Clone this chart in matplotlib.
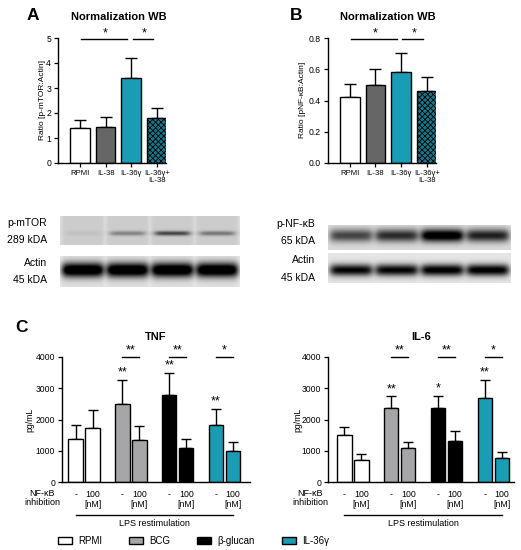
import numpy as np
import matplotlib
matplotlib.use('Agg')
import matplotlib.pyplot as plt
from matplotlib.patches import Rectangle
import matplotlib.transforms as mtrans

plt.rcParams['font.family'] = ['Liberation Sans', 'DejaVu Sans']
plt.rcParams['hatch.linewidth'] = 0.6
plt.rcParams['hatch.color'] = 'black'

W, H = 521, 550
fig = plt.figure(figsize=(W / 100, H / 100), dpi=100)


def rect(x0, y0, x1, y1):
    return [x0 / W, 1 - y1 / H, (x1 - x0) / W, (y1 - y0) / H]


# ---------------- data ----------------
wb_groups = ['RPMI', 'IL-38', 'IL-36γ', 'IL-36γ+\nIL-38']
mtor_mean = [1.40, 1.45, 3.40, 1.80]
mtor_err = [0.33, 0.40, 0.80, 0.42]
nfkb_mean = [0.425, 0.50, 0.585, 0.46]
nfkb_err = [0.08, 0.10, 0.12, 0.09]
wb_colors = ['white', '#666666', '#1a9cb5', '#15798d']
wb_hatch = [None, None, None, 'xxxxxx']
wb_sig = [(0, 2, '*'), (2, 3, '*')]

stimuli = ['RPMI', 'BCG', 'β-glucan', 'IL-36γ']
stim_colors = ['white', '#a6a6a8', 'black', '#1a9cb5']
inhib_labels = ['-', '100\n[nM]']
tnf_mean = [1370, 1740, 2500, 1350, 2770, 1080, 1840, 1000]
tnf_err = [470, 550, 780, 430, 730, 310, 510, 270]
il6_mean = [1500, 720, 2380, 1100, 2380, 1320, 2690, 760]
il6_err = [250, 180, 360, 190, 380, 300, 580, 200]
tnf_stars = ['', '', '**', '', '**', '', '**', '']
il6_stars = ['', '', '**', '', '*', '', '**', '']
tnf_pair_sig = ['', '**', '**', '*']
il6_pair_sig = ['', '**', '**', '*']

mtor_band = [0.05, 0.3, 0.55, 0.35]
actinA_band = [1.1, 1.1, 1.1, 1.1]
nfkb_band = [0.6, 0.7, 1.0, 0.75]
actinB_band = [0.9, 0.9, 0.95, 0.95]


def style_axes(ax):
    for s in ['top', 'right']:
        ax.spines[s].set_visible(False)
    for s in ['left', 'bottom']:
        ax.spines[s].set_linewidth(1.0)
    ax.tick_params(direction='out', length=3, width=0.9, labelsize=6.2, pad=2)


# ---------------- WB bar panels ----------------
def wb_panel(box, mean, err, ylim, yticks, ylabels, ylabel, ylab_x, title_x, xlim):
    ax = fig.add_axes(rect(*box))
    x = np.arange(len(mean))
    for i in range(len(mean)):
        ax.bar(x[i], mean[i], width=0.77, color=wb_colors[i], edgecolor='black',
               linewidth=1.0, hatch=wb_hatch[i], zorder=2)
    ax.errorbar(x, mean, yerr=[np.zeros(len(err)), err], fmt='none', ecolor='black',
                elinewidth=1.0, capsize=4, capthick=1.0, zorder=1)
    ax.set_ylim(*ylim)
    ax.set_xlim(*xlim)
    ax.set_yticks(yticks)
    ax.set_yticklabels(ylabels)
    ax.set_xticks(x)
    style_axes(ax)
    ax.set_xticklabels(wb_groups, fontsize=5.6, linespacing=1.0)
    top = ylim[1] * 0.99
    for a, b, s in wb_sig:
        ax.plot([x[a] + 0.05, x[b] - 0.15], [top, top], color='black', lw=1.0, clip_on=False)
        ax.text((x[a] + x[b]) / 2, top, s, ha='center', va='bottom', fontsize=9, clip_on=False)
    fig.text(ylab_x / W, 1 - 100 / H, ylabel, rotation=90, ha='center', va='center', fontsize=6)
    fig.text(title_x / W, 1 - 17 / H, 'Normalization WB', ha='center', va='center',
             fontsize=8, fontweight='bold')
    return ax


wb_panel((58, 38, 166, 163), mtor_mean, mtor_err, (0, 5), [0, 1, 2, 3, 4, 5],
         ['0', '1', '2', '3', '4', '5'], 'Ratio [p-mTOR:Actin]', 43, 119, (-0.85, 3.35))
wb_panel((328, 38, 436, 163), nfkb_mean, nfkb_err, (0, 0.8), [0, 0.2, 0.4, 0.6, 0.8],
         ['0.0', '0.2', '0.4', '0.6', '0.8'], 'Ratio [pNF-κB:Actin]', 303, 388, (-0.84, 3.35))

fig.text(33 / W, 1 - 15 / H, 'A', ha='center', va='center', fontsize=12.5, fontweight='bold')
fig.text(296 / W, 1 - 15 / H, 'B', ha='center', va='center', fontsize=12.5, fontweight='bold')
fig.text(21 / W, 1 - 327 / H, 'C', ha='center', va='center', fontsize=12.5, fontweight='bold')


# ---------------- Western blots ----------------
def blot(box, bands, bg, yc, sig, gap_light, hw_frac):
    ax = fig.add_axes(rect(*box))
    ny, nx = 60, 240
    yy = np.linspace(0, 1, ny)[:, None]
    xx = np.linspace(0, 1, nx)[None, :]
    n = len(bands)
    img = np.full((ny, nx), float(bg))
    lanes = np.zeros((1, nx))
    for i, b in enumerate(bands):
        c = (i + 0.5) / n
        hw = hw_frac / n
        horiz = 1 / (1 + np.exp(-(xx - (c - hw)) * 90)) * 1 / (1 + np.exp((xx - (c + hw)) * 90))
        vert = np.exp(-((yy - yc) / sig) ** 2)
        img = img + b * horiz * vert
        lanes = lanes + 1 / (1 + np.exp(-(xx - (c - 0.47 / n)) * 200)) * 1 / (1 + np.exp((xx - (c + 0.47 / n)) * 200))
    img = img - gap_light * (1 - np.clip(lanes, 0, 1))
    img = np.clip(img, 0, 1)
    ax.imshow(img, cmap='gray_r', vmin=0, vmax=1.0, aspect='auto', interpolation='bilinear',
              extent=(0, 1, 1, 0))
    ax.set_axis_off()
    return ax


blot((60, 216, 240, 245), mtor_band, 0.2, 0.6, 0.08, 0.08, 0.38)
blot((60, 256, 240, 287), actinA_band, 0.12, 0.45, 0.24, 0.04, 0.45)
blot((328, 225, 510, 250), nfkb_band, 0.14, 0.42, 0.26, 0.0, 0.45)
blot((328, 253, 510, 283), actinB_band, 0.1, 0.57, 0.2, 0.0, 0.45)

for txt, x, y in [('p-mTOR', 47, 223), ('289 kDA', 47, 240), ('Actin', 47, 263), ('45 kDA', 47, 280),
                  ('p-NF-κB', 315, 224), ('65 kDA', 315, 241), ('Actin', 315, 260), ('45 kDA', 315, 278)]:
    fig.text(x / W, 1 - y / H, txt, ha='right', va='center', fontsize=7.5)


# ---------------- Cytokine panels ----------------
def cyto_panel(box, mean, err, stars, pair_sig, title, ylab_x, lab_x, xlim):
    ax = fig.add_axes(rect(*box))
    pos = []
    cols = []
    labs = []
    for g in range(len(stimuli)):
        for s in range(2):
            pos.append(g * 2.75 + s)
            cols.append(stim_colors[g])
            labs.append(inhib_labels[s])
    pos = np.array(pos)
    ax.bar(pos, mean, width=0.85, color=cols, edgecolor='black', linewidth=1.0, zorder=2)
    ax.errorbar(pos, mean, yerr=[np.zeros(len(err)), err], fmt='none', ecolor='black',
                elinewidth=1.0, capsize=3.5, capthick=1.0, zorder=1)
    ax.set_ylim(0, 4000)
    ax.set_xlim(*xlim)
    ax.set_yticks([0, 1000, 2000, 3000, 4000])
    ax.set_xticks(pos)
    style_axes(ax)
    ax.set_xticklabels(labs, fontsize=6.3, va='top', linespacing=1.1)
    ax.tick_params(axis='x', length=0, pad=6)
    for i, s in enumerate(stars):
        if s:
            ax.text(pos[i], mean[i] + err[i] + 40, s, ha='center', va='bottom', fontsize=9)
    for g, s in enumerate(pair_sig):
        if s:
            a, b = pos[2 * g], pos[2 * g + 1]
            ax.plot([a, b], [4000, 4000], color='black', lw=1.0, clip_on=False)
            ax.text((a + b) / 2, 4010, s, ha='center', va='bottom', fontsize=9, clip_on=False)
    ax.set_title(title, fontsize=8, fontweight='bold', pad=12)
    fig.text(ylab_x / W, 1 - 420 / H, 'pg/mL', rotation=90, ha='center', va='center', fontsize=6.3)
    tr = mtrans.blended_transform_factory(ax.transData, ax.transAxes)
    ax.plot([pos[0], pos[-1]], [-0.264, -0.264], color='black', lw=1.0, transform=tr, clip_on=False)
    ax.text((pos[0] + pos[-1]) / 2, -0.33, 'LPS restimulation', transform=tr, ha='center',
            va='center', fontsize=6.5)
    fig.text(lab_x / W, 1 - 498 / H, 'NF-κB\ninhibition', ha='center', va='center',
             fontsize=6.5, linespacing=1.1)
    return ax


cyto_panel((62, 357, 250, 482), tnf_mean, tnf_err, tnf_stars, tnf_pair_sig, 'TNF', 30, 42, (-0.8, 10.25))
cyto_panel((328, 357, 514, 482), il6_mean, il6_err, il6_stars, il6_pair_sig, 'IL-6', 298, 310, (-0.97, 9.97))

handles = [Rectangle((0, 0), 1, 1, facecolor=c, edgecolor='black', linewidth=1.0) for c in stim_colors]
fig.legend(handles, stimuli, loc='center left', bbox_to_anchor=(58 / W, 1 - 541 / H), ncol=4,
           frameon=False, fontsize=7, handlelength=1.45, handleheight=0.7, handletextpad=0.6,
           columnspacing=2.8, borderpad=0, borderaxespad=0)

fig.savefig('out.png', dpi=100)
